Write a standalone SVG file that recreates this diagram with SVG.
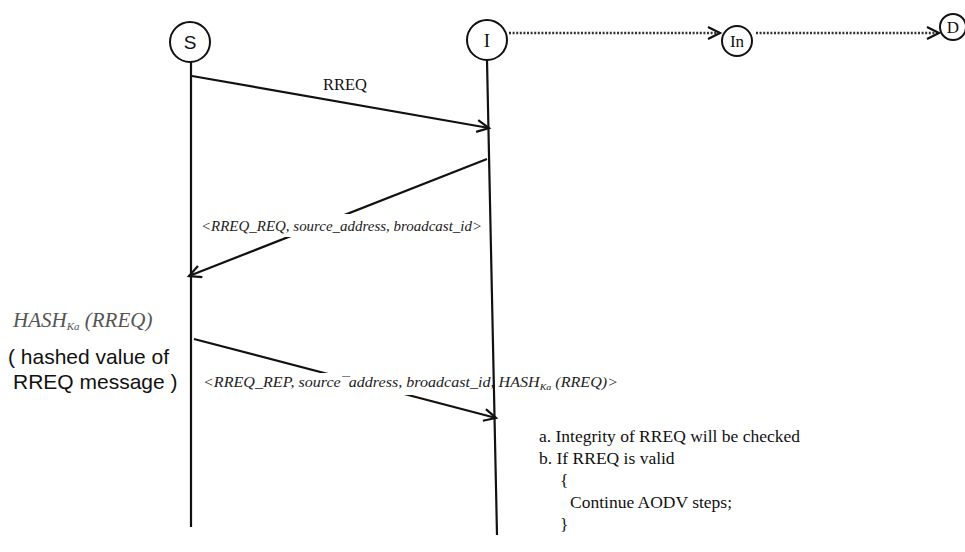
<svg xmlns="http://www.w3.org/2000/svg" width="965" height="552" viewBox="0 0 965 552">
<style>
.node{fill:#fff;stroke:#111;stroke-width:2}
.life{stroke:#111;stroke-width:2.2;fill:none}
.msg{stroke:#111;stroke-width:2.2;fill:none}
.dot{stroke:#333;stroke-width:2.5;stroke-dasharray:2 1.6;fill:none}
.ser{font-family:"Liberation Serif","Times New Roman",serif;fill:#111}
.it{font-family:"Liberation Serif","Times New Roman",serif;font-style:italic;fill:#222}
.sans{font-family:"Liberation Sans",Arial,sans-serif;fill:#111}
.bg{fill:#fff}
</style>
<defs>
<marker id="arr" markerUnits="userSpaceOnUse" markerWidth="16" markerHeight="16" refX="13" refY="7" orient="auto">
<path d="M1,1 L13,7 L1,13" fill="none" stroke="#111" stroke-width="2.2"/>
</marker>
</defs>
<rect width="965" height="552" fill="#fff"/>
<g id="connectors">
<line class="msg" x1="192" y1="76" x2="489" y2="128" marker-end="url(#arr)"/>
<line class="msg" x1="487" y1="159" x2="189" y2="276" marker-end="url(#arr)"/>
<line class="msg" x1="194" y1="339" x2="496" y2="418" marker-end="url(#arr)"/>
<line class="dot" x1="509" y1="33" x2="720" y2="33" marker-end="url(#arr)"/>
<line class="dot" x1="756" y1="33" x2="939" y2="33" marker-end="url(#arr)"/>
<rect class="bg" x="198" y="214" width="286" height="23"/>
<rect class="bg" x="200" y="373" width="422" height="22"/>
<text class="ser" x="345" y="90" font-size="16.5" text-anchor="middle">RREQ</text>
<text class="it" x="201" y="231" font-size="14.5" textLength="281" lengthAdjust="spacingAndGlyphs">&lt;RREQ_REQ, source_address, broadcast_id&gt;</text>
<text class="it" x="203" y="387" font-size="14.5" textLength="415" lengthAdjust="spacingAndGlyphs">&lt;RREQ_REP, source¯address, broadcast_id, HASH<tspan font-size="9" dy="3">Ka</tspan><tspan dy="-3"> (RREQ)&gt;</tspan></text>
</g>
<g id="node-S">
<line class="life" x1="191" y1="62" x2="191" y2="527"/>
<circle class="node" cx="190" cy="42" r="20"/>
<text class="sans" x="190" y="49" font-size="19" text-anchor="middle">S</text>
</g>
<g id="node-I">
<line class="life" x1="487" y1="60" x2="497" y2="535"/>
<circle class="node" cx="487" cy="40" r="20"/>
<text class="ser" x="487" y="47" font-size="19" text-anchor="middle">I</text>
</g>
<g id="node-In">
<circle class="node" cx="737" cy="41" r="15"/>
<text class="ser" x="737" y="47" font-size="17" text-anchor="middle">In</text>
</g>
<g id="node-D">
<circle class="node" cx="953" cy="27" r="13"/>
<text class="ser" x="953" y="33" font-size="17" text-anchor="middle">D</text>
</g>
<g id="note-left">
<text class="it" x="13" y="327" font-size="21" style="fill:#555">HASH<tspan font-size="11" dy="3">Ka</tspan><tspan dy="-3"> (RREQ)</tspan></text>
<text class="sans" x="8" y="364" font-size="21">( hashed value of</text>
<text class="sans" x="13" y="389" font-size="21">RREQ message )</text>
</g>
<g id="note-right">
<text class="ser" x="539" y="442" font-size="17.5">a. Integrity of RREQ will be checked</text>
<text class="ser" x="539" y="464" font-size="17.5">b. If RREQ is valid</text>
<text class="ser" x="560" y="486" font-size="17.5">{</text>
<text class="ser" x="570" y="508" font-size="17.5">Continue AODV steps;</text>
<text class="ser" x="560" y="530" font-size="17.5">}</text>
</g>
</svg>
